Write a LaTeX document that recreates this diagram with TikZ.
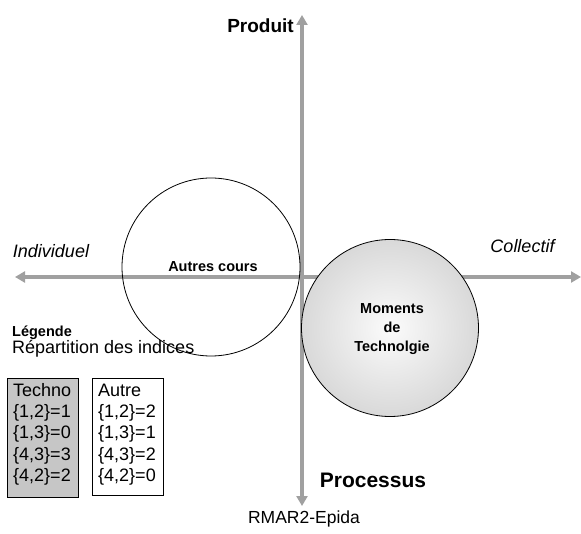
\documentclass[tikz,border=0pt]{standalone}
\usepackage{fontspec}
\setmainfont{Liberation Sans}
\usetikzlibrary{arrows.meta}
\definecolor{axisgray}{HTML}{A0A0A0}
\definecolor{boxgray}{HTML}{C6C6C6}
\begin{document}
\begin{tikzpicture}[x=1pt,y=-1pt,
  axis/.style={draw=axisgray,line width=4pt,
    {Triangle[length=10pt,width=11pt]}-{Triangle[length=10pt,width=11pt]}},
  lbl/.style={inner sep=0pt,anchor=base},
  lblw/.style={inner sep=0pt,anchor=base west},
  big/.style={font=\fontsize{18}{21}\selectfont},
  bigb/.style={font=\fontsize{19}{22}\selectfont\bfseries},
  proc/.style={font=\fontsize{21}{24}\selectfont\bfseries},
  smallb/.style={font=\fontsize{14.5}{17}\selectfont\bfseries},
  ital/.style={font=\fontsize{18}{21}\selectfont\itshape},
  legbox/.style={draw=black,line width=0.8pt,minimum width=71pt,inner sep=0pt},
  bubble/.style={circle,draw=black,line width=0.8pt,inner sep=0pt}
]
\useasboundingbox (0,0) rectangle (581,534);
% axes
\coordinate (W) at (15,277);
\coordinate (E) at (581,277);
\coordinate (N) at (302,15);
\coordinate (S) at (302,506);
\draw[axis] (W) -- (E);
\draw[axis] (S) -- (N);
% circles
\node[bubble,minimum size=178pt] (autres) at (211,267) {};
\node[bubble,minimum size=177pt,shade,inner color=gray!3,outer color=gray!30] (moments) at (390,328) {};
\node[lbl,smallb] (autrestxt) at (213,272) {Autres cours};
\node[lbl,smallb] (m1) at (392,314) {Moments};
\node[lbl,smallb] (m2) at (392,333) {de};
\node[lbl,smallb] (m3) at (392,352) {Technolgie};
% axis labels
\node[lbl,bigb] (produit) at (260.5,33) {Produit};
\node[lbl,proc] (processus) at (373,487) {Processus};
\node[lbl,ital] (indiv) at (51,258) {Individuel};
\node[lbl,ital] (coll) at (522.5,253) {Collectif};
\node[lbl,font=\fontsize{17.5}{21}\selectfont] (rmar) at (304,523) {RMAR2-Epida};
% legend
\node[lblw,smallb] (legende) at (12,337) {Légende};
\node[lblw,big] (repart) at (12,354) {Répartition des indices};
\node[legbox,fill=boxgray,minimum height=119pt,anchor=north west] (techno) at (7,378) {};
\node[legbox,minimum height=117pt,anchor=north west] (autre) at (92,378) {};
\foreach \i/\a/\b in {0/Techno/Autre,1/{\{1,2\}=1}/{\{1,2\}=2},2/{\{1,3\}=0}/{\{1,3\}=1},3/{\{4,3\}=3}/{\{4,3\}=2},4/{\{4,2\}=2}/{\{4,2\}=0}}{
  \node[lblw,big] (t\i) at (13,396+21.4*\i) {\a};
  \node[lblw,big] (a\i) at (98,396+21.4*\i) {\b};
}
\end{tikzpicture}
\end{document}
